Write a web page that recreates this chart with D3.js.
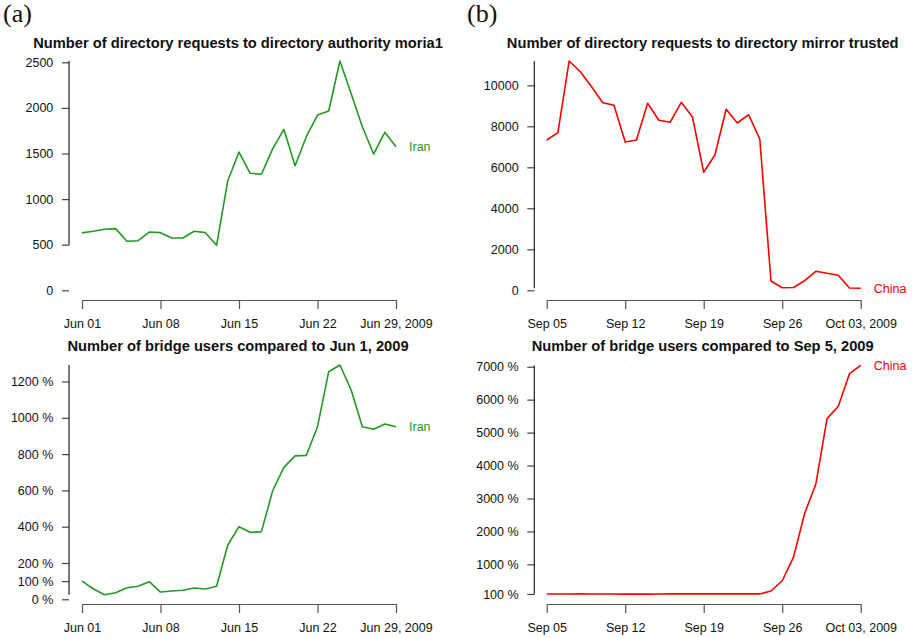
<!DOCTYPE html>
<html>
<head>
<meta charset="utf-8">
<script src="https://cdn.jsdelivr.net/npm/d3@7"></script>
<style>
  html, body { margin: 0; padding: 0; background: #fff; }
  svg { display: block; }
  text { font-family: "Liberation Sans", Arial, Helvetica, sans-serif; }
  text.letter { font-family: "Liberation Serif", "Times New Roman", serif; }
</style>
</head>
<body>
<svg id="chart" width="912" height="638"></svg>
<script>
// ---------- data ----------
const junTickDays = [0, 7, 14, 21, 28];
const junTickLabels = ["Jun 01", "Jun 08", "Jun 15", "Jun 22", "Jun 29, 2009"];
const sepTickDays = [0, 7, 14, 21, 28];
const sepTickLabels = ["Sep 05", "Sep 12", "Sep 19", "Sep 26", "Oct 03, 2009"];

// Iran, directory requests to moria1, Jun 1 .. Jun 29 2009 (daily)
const iranRequests = [630, 647, 669, 676, 537, 544, 639, 632, 573, 573, 647, 632, 493,
  1202, 1516, 1283, 1272, 1550, 1765, 1366, 1684, 1922, 1966, 2514, 2155, 1794, 1494, 1732, 1575];
// China, directory requests to trusted, Sep 5 .. Oct 3 2009 (daily)
const chinaRequests = [7332, 7688, 11185, 10663, 9932, 9151, 9024, 7234, 7332, 9122, 8293, 8195, 9171,
  8454, 5756, 6600, 8829, 8161, 8566, 7380, 454, 127, 137, 468, 927, 829, 732, 112, 98];
// Iran bridge users, % of Jun 1
const iranBridge = [100, 58, 25, 36, 64, 72, 97, 40, 46, 50, 62, 57, 72,
  299, 400, 369, 373, 598, 727, 790, 793, 951, 1254, 1291, 1153, 951, 937, 966, 951];
// China bridge users, % of Sep 5
const chinaBridge = [100, 100, 101, 103, 102, 100, 98, 97, 96, 97, 102, 103, 103,
  104, 104, 105, 105, 104, 104, 103, 190, 503, 1212, 2545, 3440, 5424, 5797, 6788, 7039];

const reqTicksA = [0, 500, 1000, 1500, 2000, 2500];
const reqTicksB = [0, 2000, 4000, 6000, 8000, 10000];
const bridgeTicksA = [0, 100, 200, 400, 600, 800, 1000, 1200];
const bridgeTicksB = [100, 1000, 2000, 3000, 4000, 5000, 6000, 7000];

const titles = [
  "Number of directory requests to directory authority moria1",
  "Number of directory requests to directory mirror trusted",
  "Number of bridge users compared to Jun 1, 2009",
  "Number of bridge users compared to Sep 5, 2009"
];

const GREEN = "#229922";
const RED = "#ff0000";

const svg = d3.select("#chart");

function panel(cfg) {
  const g = svg.append("g");
  const days = d3.range(cfg.values.length);
  const x = d3.scaleLinear().domain([0, cfg.values.length - 1]).range(cfg.xRange);
  const y = d3.scaleLinear().domain(cfg.yDomain).range(cfg.yRange);

  // title
  g.append("text")
    .attr("x", (cfg.xRange[0] + cfg.xRange[1]) / 2 - 1)
    .attr("y", cfg.titleY)
    .attr("text-anchor", "middle")
    .attr("font-size", "14.7px")
    .attr("font-weight", "bold")
    .attr("fill", "#111")
    .text(cfg.title);

  // x axis
  const xa = g.append("g")
    .attr("transform", `translate(0,${cfg.xAxisY})`)
    .call(d3.axisBottom(x).tickValues(cfg.xTicks)
      .tickFormat((d, i) => cfg.xLabels[i]).tickSize(9).tickSizeOuter(0));
  xa.select(".domain").attr("stroke", "#555").attr("stroke-width", 1.2);
  xa.selectAll(".tick line").attr("stroke", "#555").attr("stroke-width", 1.2);
  xa.selectAll(".tick text").attr("y", 18.7).attr("dy", "0.71em")
    .attr("font-size", "12.5px").attr("fill", "#111")
    .attr("font-family", '"Liberation Sans", Arial, sans-serif');

  // y axis (range frame)
  const ya = g.append("g")
    .attr("transform", `translate(${cfg.yAxisX},0)`)
    .call(d3.axisLeft(y).tickValues(cfg.yTicks).tickFormat(cfg.yFormat)
      .tickSize(7).tickPadding(8.7).tickSizeOuter(0));
  ya.select(".domain").remove();
  ya.selectAll(".tick line").attr("stroke", "#444").attr("stroke-width", 1.2);
  ya.selectAll(".tick text").attr("font-size", "12.5px").attr("fill", "#111")
    .attr("font-family", '"Liberation Sans", Arial, sans-serif');
  const ext = d3.extent(cfg.values);
  g.append("line")
    .attr("x1", cfg.yAxisX).attr("x2", cfg.yAxisX)
    .attr("y1", y(ext[0])).attr("y2", y(ext[1]))
    .attr("stroke", "#222").attr("stroke-width", 1.2);

  // line
  g.append("path")
    .datum(days)
    .attr("fill", "none")
    .attr("stroke", cfg.color)
    .attr("stroke-width", 1.6)
    .attr("stroke-linejoin", "round")
    .attr("d", d3.line().x(d => x(d)).y(d => y(cfg.values[d])));

  // series label
  const last = cfg.values.length - 1;
  g.append("text")
    .attr("x", x(last) + 13)
    .attr("y", y(cfg.values[last]))
    .attr("dy", "0.36em")
    .attr("font-size", "12.5px")
    .attr("fill", cfg.color)
    .text(cfg.label);
}

panel({
  title: titles[0], titleY: 47.5, values: iranRequests, color: GREEN, label: "Iran",
  xRange: [82, 396], xAxisY: 300, xTicks: junTickDays, xLabels: junTickLabels,
  yAxisX: 69, yDomain: [0, 2500], yRange: [290.3, 62.3], yTicks: reqTicksA, yFormat: d3.format("d")
});
panel({
  title: titles[1], titleY: 47.5, values: chinaRequests, color: RED, label: "China",
  xRange: [546.7, 860.7], xAxisY: 300, xTicks: sepTickDays, xLabels: sepTickLabels,
  yAxisX: 534.3, yDomain: [0, 10000], yRange: [290.3, 85.3], yTicks: reqTicksB, yFormat: d3.format("d")
});
panel({
  title: titles[2], titleY: 351, values: iranBridge, color: GREEN, label: "Iran",
  xRange: [82, 396], xAxisY: 604, xTicks: junTickDays, xLabels: junTickLabels,
  yAxisX: 69, yDomain: [0, 1200], yRange: [599.3, 381.5], yTicks: bridgeTicksA, yFormat: d => d + " %"
});
panel({
  title: titles[3], titleY: 351, values: chinaBridge, color: RED, label: "China",
  xRange: [546.7, 860.7], xAxisY: 604, xTicks: sepTickDays, xLabels: sepTickLabels,
  yAxisX: 534.3, yDomain: [100, 7000], yRange: [594, 366.7], yTicks: bridgeTicksB, yFormat: d => d + " %"
});

// panel letters
svg.append("text").attr("class", "letter").attr("x", 3).attr("y", 22)
  .attr("font-size", "26px").attr("fill", "#111").text("(a)");
svg.append("text").attr("class", "letter").attr("x", 467).attr("y", 22)
  .attr("font-size", "26px").attr("fill", "#111").text("(b)");
</script>
</body>
</html>
